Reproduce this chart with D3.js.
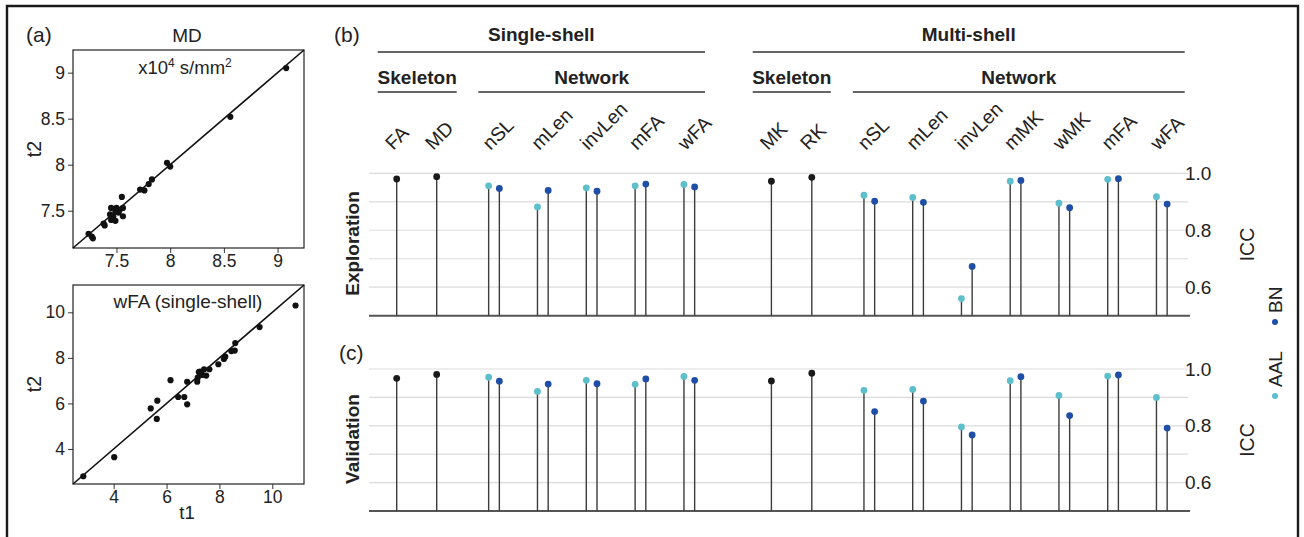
<!DOCTYPE html>
<html><head><meta charset="utf-8">
<script src="https://cdn.jsdelivr.net/npm/d3@7"></script>
<style>
body{margin:0;background:#fff}
svg{display:block}
text{font-family:"Liberation Sans",Arial,sans-serif;fill:#222}
</style>
</head><body><svg id="c" width="1304" height="537"></svg>
<script>
// ---------------- data ----------------
// (a) scatter: MD (x10^4 s/mm^2)
const mdT1 = [9.08, 8.56, 7.97, 8.00, 7.83, 7.80, 7.72, 7.76, 7.55, 7.45, 7.50, 7.53, 7.56, 7.49, 7.52, 7.44, 7.47, 7.56, 7.45, 7.49, 7.38, 7.39, 7.24, 7.27, 7.28];
const mdT2 = [9.05, 8.52, 8.02, 7.98, 7.84, 7.79, 7.73, 7.72, 7.65, 7.53, 7.53, 7.51, 7.53, 7.49, 7.48, 7.46, 7.44, 7.44, 7.40, 7.39, 7.36, 7.34, 7.25, 7.22, 7.20];
const mdTicks = [7.5, 8, 8.5, 9];
const mdTickLabels = ["7.5", "8", "8.5", "9"];
// (a) scatter: wFA (single-shell)
const wfaT1 = [2.85, 4.02, 5.40, 5.65, 5.63, 6.15, 6.44, 6.67, 6.78, 6.78, 7.16, 7.18, 7.22, 7.35, 7.42, 7.50, 7.62, 7.96, 8.17, 8.22, 8.45, 8.58, 8.60, 9.52, 10.88, 7.26];
const wfaT2 = [2.80, 3.64, 5.78, 6.12, 5.32, 7.02, 6.28, 6.28, 6.95, 5.96, 6.95, 7.13, 7.38, 7.25, 7.50, 7.22, 7.50, 7.72, 7.95, 8.05, 8.30, 8.32, 8.65, 9.35, 10.30, 7.40];
const wfaTicks = [4, 6, 8, 10];
const wfaTickLabels = ["4", "6", "8", "10"];

// (b)/(c) categories
const singleSkeleton = ["FA", "MD"];
const singleNetwork = ["nSL", "mLen", "invLen", "mFA", "wFA"];
const multiSkeleton = ["MK", "RK"];
const multiNetwork = ["nSL", "mLen", "invLen", "mMK", "wMK", "mFA", "wFA"];
const atlases = ["AAL", "BN"];

// Exploration ICC
const expSingleSkeleton = [0.980, 0.988];
const expSingleAAL = [0.956, 0.882, 0.949, 0.956, 0.961];
const expSingleBN = [0.947, 0.940, 0.937, 0.962, 0.952];
const expMultiSkeleton = [0.972, 0.986];
const expMultiAAL = [0.923, 0.915, 0.560, 0.972, 0.895, 0.979, 0.918];
const expMultiBN = [0.902, 0.898, 0.673, 0.975, 0.879, 0.981, 0.892];
// Validation ICC
const valSingleSkeleton = [0.967, 0.981];
const valSingleAAL = [0.971, 0.921, 0.960, 0.946, 0.974];
const valSingleBN = [0.957, 0.947, 0.948, 0.965, 0.960];
const valMultiSkeleton = [0.958, 0.985];
const valMultiAAL = [0.925, 0.928, 0.796, 0.959, 0.907, 0.975, 0.900];
const valMultiBN = [0.850, 0.887, 0.768, 0.973, 0.836, 0.979, 0.792];

const iccGrid = [0.6, 0.7, 0.8, 0.9, 1.0];
const iccTicks = [0.6, 0.8, 1.0];
const iccTickLabels = ["0.6", "0.8", "1.0"];

// ---------------- drawing ----------------
const svg = d3.select("#c");
svg.append("rect").attr("width", 1304).attr("height", 537).attr("fill", "#fff");
// outer frame
svg.append("path").attr("d", "M7,545 V6 H1298 V545").attr("fill", "none").attr("stroke", "#1a1a1a").attr("stroke-width", 2.4);

const colAAL = "#5dbfcb", colBN = "#1f4ea6", colSkel = "#1a1a1a", stemCol = "#3c3c3c";

// ---- panel (a) ----
function scatter(t1, t2, domain, box, ticks, labels) {
  const g = svg.append("g");
  const x = d3.scaleLinear().domain(domain).range([box.x0, box.x1]);
  const y = d3.scaleLinear().domain(domain).range([box.y1, box.y0]);
  const ax = g.append("g").attr("transform", `translate(0,${box.y1})`)
    .call(d3.axisBottom(x).tickValues(ticks).tickFormat((d, i) => labels[i]).tickSize(5).tickPadding(2));
  const ay = g.append("g").attr("transform", `translate(${box.x0},0)`)
    .call(d3.axisLeft(y).tickValues(ticks).tickFormat((d, i) => labels[i]).tickSize(5).tickPadding(3));
  [ax, ay].forEach(a => {
    a.select(".domain").remove();
    a.selectAll("line").attr("stroke", "#333");
    a.selectAll("text").style("font-size", "17.5px").attr("fill", "#333")
      .style("font-family", '"Liberation Sans",Arial,sans-serif');
  });
  g.append("rect").attr("x", box.x0).attr("y", box.y0).attr("width", box.x1 - box.x0).attr("height", box.y1 - box.y0)
    .attr("fill", "none").attr("stroke", "#222").attr("stroke-width", 1.2);
  g.append("line").attr("x1", x(domain[0])).attr("y1", y(domain[0])).attr("x2", x(domain[1])).attr("y2", y(domain[1]))
    .attr("stroke", "#111").attr("stroke-width", 1.6);
  g.selectAll("circle.p").data(t1).enter().append("circle")
    .attr("cx", d => x(d)).attr("cy", (d, i) => y(t2[i])).attr("r", 3.1).attr("fill", "#111");
  return g;
}
scatter(mdT1, mdT2, [7.095, 9.246], {x0: 73, x1: 304, y0: 50, y1: 248}, mdTicks, mdTickLabels);
scatter(wfaT1, wfaT2, [2.46, 11.2], {x0: 73, x1: 304, y0: 285, y1: 484}, wfaTicks, wfaTickLabels);

svg.append("text").attr("x", 26).attr("y", 42).style("font-size", "21px").text("(a)");
svg.append("text").attr("x", 187).attr("y", 42).attr("text-anchor", "middle").style("font-size", "19px").text("MD");
const unit = svg.append("text").attr("x", 185).attr("y", 74).attr("text-anchor", "middle").style("font-size", "18.5px");
unit.append("tspan").text("x10");
unit.append("tspan").attr("dy", -7).style("font-size", "12px").text("4");
unit.append("tspan").attr("dy", 7).text(" s/mm");
unit.append("tspan").attr("dy", -7).style("font-size", "12px").text("2");
svg.append("text").attr("x", 188).attr("y", 308).attr("text-anchor", "middle").style("font-size", "19px").text("wFA (single-shell)");
svg.append("text").attr("transform", "translate(41,149) rotate(-90)").attr("text-anchor", "middle").style("font-size", "19.5px").text("t2");
svg.append("text").attr("transform", "translate(41,384) rotate(-90)").attr("text-anchor", "middle").style("font-size", "19.5px").text("t2");
svg.append("text").attr("x", 187).attr("y", 519).attr("text-anchor", "middle").style("font-size", "18.5px").text("t1");

// ---- panels (b)/(c) ----
const groups = [
  {shell: "Single-shell", type: "Skeleton", cats: singleSkeleton, stems: [396.7, 436.7], line: [377.7, 456.7]},
  {shell: "Single-shell", type: "Network", cats: singleNetwork, stems: [494, 689.3], line: [478.3, 705]},
  {shell: "Multi-shell", type: "Skeleton", cats: multiSkeleton, stems: [771.4, 811.8], line: [752.7, 830.8]},
  {shell: "Multi-shell", type: "Network", cats: multiNetwork, stems: [869.3, 1161.8], line: [852.8, 1184.7]}
];
groups.forEach(gr => { gr.x = d3.scalePoint().domain(gr.cats).range(gr.stems); });
const shells = [
  {name: "Single-shell", line: [377.7, 705]},
  {name: "Multi-shell", line: [752.7, 1184.7]}
];
const dodge = d3.scalePoint().domain(atlases).range([-5.35, 5.35]);

const panels = [
  {name: "Exploration", range: [315.7, 173.3], vals: [{skel: expSingleSkeleton}, {AAL: expSingleAAL, BN: expSingleBN}, {skel: expMultiSkeleton}, {AAL: expMultiAAL, BN: expMultiBN}]},
  {name: "Validation", range: [511, 369], vals: [{skel: valSingleSkeleton}, {AAL: valSingleAAL, BN: valSingleBN}, {skel: valMultiSkeleton}, {AAL: valMultiAAL, BN: valMultiBN}]}
];
const px0 = 369, px1 = 1188;

// headers
shells.forEach(s => {
  svg.append("text").attr("x", (s.line[0] + s.line[1]) / 2).attr("y", 41).attr("text-anchor", "middle")
    .style("font-size", "19px").style("font-weight", "bold").text(s.name);
  svg.append("line").attr("x1", s.line[0]).attr("x2", s.line[1]).attr("y1", 52).attr("y2", 52).attr("stroke", "#333").attr("stroke-width", 1.3);
});
groups.forEach(gr => {
  svg.append("text").attr("x", (gr.line[0] + gr.line[1]) / 2).attr("y", 84).attr("text-anchor", "middle")
    .style("font-size", "19px").style("font-weight", "bold").text(gr.type);
  svg.append("line").attr("x1", gr.line[0]).attr("x2", gr.line[1]).attr("y1", 92).attr("y2", 92).attr("stroke", "#333").attr("stroke-width", 1.3);
  gr.cats.forEach(c => {
    svg.append("text").attr("transform", `translate(${gr.x(c) - 3.5},151) rotate(-45)`)
      .style("font-size", "19.5px").text(c);
  });
});
svg.append("text").attr("x", 334).attr("y", 42).style("font-size", "21px").text("(b)");
svg.append("text").attr("x", 339).attr("y", 360).style("font-size", "21px").text("(c)");

panels.forEach(p => {
  const y = d3.scaleLinear().domain([0.5, 1.0]).range(p.range);
  const g = svg.append("g");
  g.selectAll("line.grid").data(iccGrid).enter().append("line")
    .attr("x1", px0).attr("x2", px1).attr("y1", d => y(d)).attr("y2", d => y(d))
    .attr("stroke", "#dcdcdc").attr("stroke-width", 1.2);
  g.append("line").attr("x1", px0).attr("x2", px1 + 2).attr("y1", y(0.5)).attr("y2", y(0.5))
    .attr("stroke", "#555").attr("stroke-width", 2);
  groups.forEach((gr, gi) => {
    const v = p.vals[gi];
    const pts = [];
    if (v.skel) {
      gr.cats.forEach((c, i) => pts.push({x: gr.x(c), v: v.skel[i], col: colSkel}));
    } else {
      atlases.forEach(a => gr.cats.forEach((c, i) => pts.push({x: gr.x(c) + dodge(a), v: v[a][i], col: a === "AAL" ? colAAL : colBN})));
    }
    g.selectAll(null).data(pts).enter().append("line")
      .attr("x1", d => d.x).attr("x2", d => d.x).attr("y1", y(0.5)).attr("y2", d => y(d.v))
      .attr("stroke", stemCol).attr("stroke-width", 1.4);
    g.selectAll(null).data(pts).enter().append("circle")
      .attr("cx", d => d.x).attr("cy", d => y(d.v)).attr("r", 3.4).attr("fill", d => d.col);
  });
  const ax = g.append("g").attr("transform", `translate(${px1 - 3},0)`)
    .call(d3.axisRight(y).tickValues(iccTicks).tickFormat((d, i) => iccTickLabels[i]).tickSize(0).tickPadding(0));
  ax.select(".domain").remove();
  ax.selectAll("text").style("font-size", "19px").attr("fill", "#333").style("font-family", '"Liberation Sans",Arial,sans-serif');
  const cy = (p.range[0] + p.range[1]) / 2;
  g.append("text").attr("transform", `translate(1254,${cy}) rotate(-90)`).attr("text-anchor", "middle")
    .style("font-size", "19.5px").attr("fill", "#333").text("ICC");
  g.append("text").attr("transform", `translate(359,${cy - 1}) rotate(-90)`).attr("text-anchor", "middle")
    .style("font-size", "19px").style("font-weight", "bold").text(p.name);
});

// legend
const legend = [{name: "BN", col: colBN, y: 322}, {name: "AAL", col: colAAL, y: 396}];
legend.forEach(l => {
  svg.append("circle").attr("cx", 1275).attr("cy", l.y).attr("r", 3).attr("fill", l.col);
  svg.append("text").attr("transform", `translate(1282,${l.y - 9}) rotate(-90)`).style("font-size", "19px").attr("fill", "#333").text(l.name);
});
</script>
</body></html>
